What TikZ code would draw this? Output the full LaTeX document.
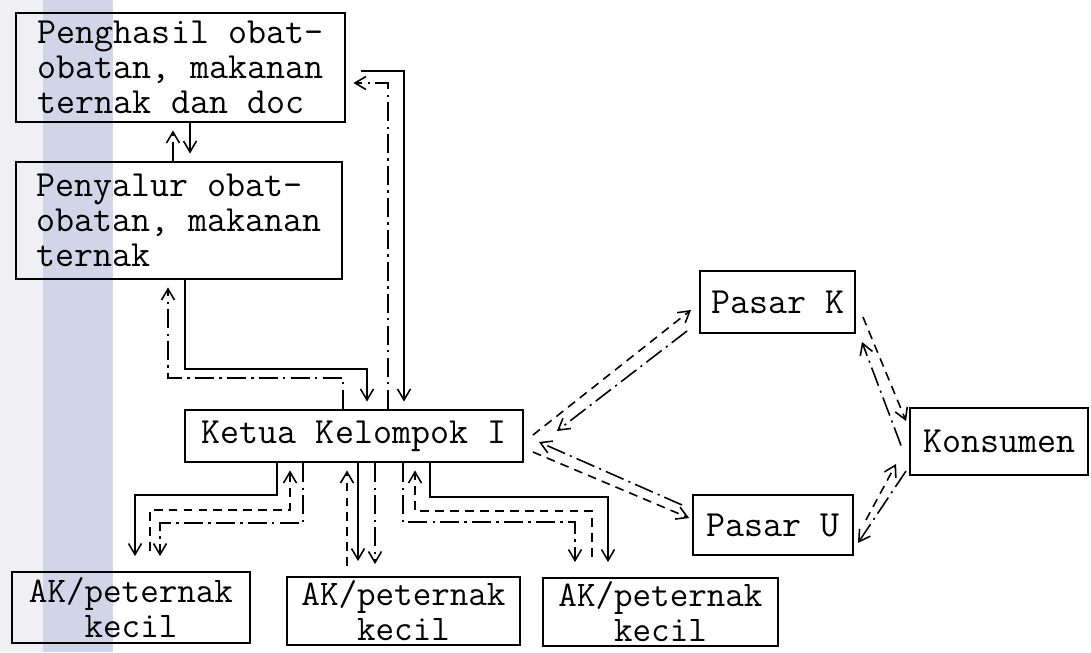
\documentclass[tikz,border=0pt]{standalone}
\usetikzlibrary{arrows.meta,calc}
\definecolor{bandgray}{RGB}{240,240,244}
\definecolor{bandblue}{RGB}{210,212,232}

\begin{document}
\begin{tikzpicture}[x=0.02cm,y=-0.02cm,
    box/.style={draw,line width=1.1pt,inner sep=0pt,font={\ttfamily\fontsize{21}{20}\selectfont}},
    member/.style={box,align=center,font={\ttfamily\fontsize{20.5}{20}\selectfont}},
    flow/.style={line width=0.9pt,-{Straight Barb[length=2.2mm,width=2.6mm]},shorten >=1.5mm},
    goods/.style={flow},
    money/.style={flow,dash pattern=on 11pt off 3pt on 1.2pt off 3pt},
    produce/.style={flow,dash pattern=on 5pt off 3.5pt}]
    \useasboundingbox (0,0) rectangle (1091,652);
    \fill[bandgray] (0,0) rectangle (43,652);
    \fill[bandblue] (43,0) rectangle (113,652);

    \node[box,align=left,minimum width=6.58cm,minimum height=2.18cm] (peng) at (180.5,67.5) {Penghasil obat-\\obatan, makanan\\ternak dan doc};
    \node[box,align=left,minimum width=6.52cm,minimum height=2.34cm] (penyalur) at (179,220.5) {Penyalur obat-\\obatan, makanan\\ternak};
    \node[box,minimum width=6.76cm,minimum height=1.04cm] (ketua) at (354,436) {Ketua Kelompok I};
    \node[box,minimum width=3.10cm,minimum height=1.24cm] (pasark) at (777.5,302) {Pasar K};
    \node[box,minimum width=3.20cm,minimum height=1.20cm] (pasaru) at (773,525) {Pasar U};
    \node[box,minimum width=3.56cm,minimum height=1.34cm] (konsumen) at (999,441.5) {Konsumen};
    \node[member,minimum width=4.76cm,minimum height=1.42cm] (ak1) at (131,607.5) {AK/peternak\\kecil};
    \node[member,minimum width=4.66cm,minimum height=1.36cm] (ak2) at (403.5,611) {AK/peternak\\kecil};
    \node[member,minimum width=4.70cm,minimum height=1.36cm] (ak3) at (660.5,612) {AK/peternak\\kecil};

    % suppliers
    \draw[goods] (peng.south -| 190,0) -- (penyalur.north -| 190,0);
    \draw[money] (penyalur.north -| 173,0) -- (peng.south -| 173,0);
    \draw[goods,shorten <=3mm] (peng.east |- 0,71) -| (ketua.north -| 404,0);
    \draw[money] (ketua.north -| 388,0) |- (peng.east |- 0,83);
    \draw[goods] (penyalur.south -| 185,0) |- (367,369) -- (ketua.north -| 367,0);
    \draw[money] (ketua.north -| 343,0) |- (168,378) -- (penyalur.south -| 168,0);

    % members
    \draw[goods,shorten >=3mm] (ketua.south -| 277,0) |- (135,495) -- (ak1.north -| 135,0);
    \draw[produce,shorten <=4mm] (ak1.north -| 150,0) |- (290,510) -- (ketua.south -| 290,0);
    \draw[money,shorten >=3mm] (ketua.south -| 303,0) |- (160,523) -- (ak1.north -| 160,0);
    \draw[produce,shorten <=2mm] (ak2.north -| 347,0) -- (ketua.south -| 347,0);
    \draw[goods,shorten >=3mm] (ketua.south -| 358,0) -- (ak2.north -| 358,0);
    \draw[money,shorten >=2.4mm] (ketua.south -| 375,0) -- (ak2.north -| 375,0);
    \draw[money,shorten >=3mm] (ketua.south -| 403,0) |- (575,522) -- (ak3.north -| 575,0);
    \draw[produce,shorten <=4mm] (ak3.north -| 592,0) |- (415,511) -- (ketua.south -| 415,0);
    \draw[goods,shorten >=3mm] (ketua.south -| 430,0) |- (608,497) -- (ak3.north -| 608,0);

    % markets
    \draw[produce,shorten >=0pt] ($(ketua.east)+(9,-1)$) -- ($(pasark.south west)+(-8,-24)$);
    \draw[money,shorten >=0pt] ($(pasark.south west)+(-12,-3)$) -- ($(ketua.east)+(33,-5)$);
    \draw[money,shorten >=0pt] ($(pasaru.west)+(-10,-20)$) -- ($(ketua.east)+(15,6)$);
    \draw[produce,shorten >=0pt] ($(ketua.east)+(9,16)$) -- ($(pasaru.west)+(-3,-7)$);
    \draw[produce,shorten >=0pt] ($(pasark.east)+(7,15)$) -- ($(konsumen.north west)+(-3,14)$);
    \draw[money,shorten >=0pt] ($(konsumen.west)+(-8,4)$) -- ($(pasark.south east)+(6,8)$);
    \draw[produce,shorten >=0pt] ($(pasaru.east)+(12,-5)$) -- ($(konsumen.south west)+(-13,-12)$);
    \draw[money,shorten >=0pt] ($(konsumen.south west)+(-3,-5)$) -- ($(pasaru.south east)+(4,-13)$);
\end{tikzpicture}
\end{document}
